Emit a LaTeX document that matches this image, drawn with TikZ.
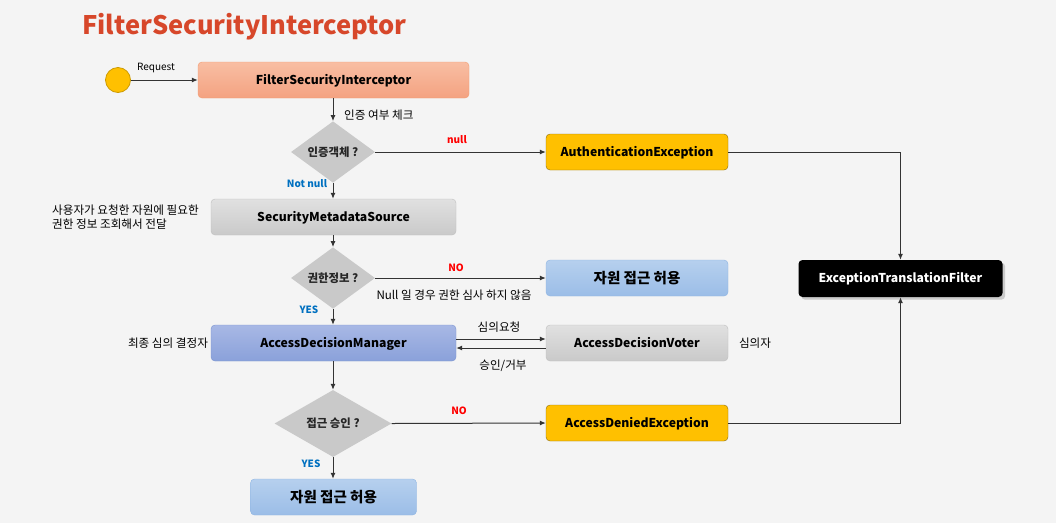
\documentclass[tikz,border=0pt]{standalone}
\usepackage{fontspec}
\setmainfont{Noto Sans CJK KR}
\usetikzlibrary{arrows.meta,shapes.geometric,shadows}
\definecolor{bgcol}{HTML}{F4F4F4}
\definecolor{titlecol}{HTML}{D7472A}
\definecolor{linecol}{HTML}{333333}
\definecolor{nored}{HTML}{FF0000}
\definecolor{yesblue}{HTML}{0070C0}
\definecolor{salmontop}{HTML}{F8BEA3}
\definecolor{salmonbot}{HTML}{F4A281}
\definecolor{salmonline}{HTML}{F29B70}
\definecolor{ambercol}{HTML}{FFC000}
\definecolor{amberline}{HTML}{8C6E10}
\definecolor{bluetop}{HTML}{B6D0EE}
\definecolor{bluebot}{HTML}{9BBDE7}
\definecolor{blueline}{HTML}{8DB4E2}
\definecolor{mgrtop}{HTML}{A8B8E5}
\definecolor{mgrbot}{HTML}{8AA1DA}
\definecolor{mgrline}{HTML}{7A93D0}
\begin{document}
\begin{tikzpicture}[x=1pt,y=-1pt,
		box/.style={rectangle,rounded corners=4pt,minimum height=36pt,inner sep=0pt,
			text height=9pt,text depth=1pt,font=\bfseries\fontsize{12.2}{14}\selectfont},
		salmon/.style={box,draw=salmonline,top color=salmontop,bottom color=salmonbot},
		amber/.style={box,draw=amberline,fill=ambercol},
		greybox/.style={box,draw=black!25,top color=black!12,bottom color=black!21},
		bluebox/.style={box,draw=blueline,top color=bluetop,bottom color=bluebot,
			text height=11.5pt,text depth=1pt,font=\bfseries\fontsize{14.5}{17}\selectfont},
		mgrbox/.style={box,draw=mgrline,top color=mgrtop,bottom color=mgrbot},
		blackbox/.style={box,fill=black,text=white,drop shadow={opacity=0.35}},
		decide/.style={diamond,fill=black!21,inner sep=0pt,text=black!85,font=\bfseries\fontsize{11.4}{13}\selectfont},
		note/.style={font=\fontsize{11.6}{14}\selectfont,inner sep=1pt},
		nolabel/.style={font=\bfseries\fontsize{10}{12}\selectfont,text=nored,inner sep=1pt},
		yeslabel/.style={font=\bfseries\fontsize{10}{12}\selectfont,text=yesblue,inner sep=1pt},
		arr/.style={draw=linecol,line width=1pt,-{Latex[length=6pt,width=5pt]}}
		]
		\fill[bgcol] (0,0) rectangle (1056,523);
		
		\node[anchor=west,font=\bfseries\fontsize{25.5}{30}\selectfont,text=titlecol,inner sep=0pt] (title) at (82,27) {FilterSecurityInterceptor};
		
		\node[circle,draw=ambercol!80!black,fill=ambercol,line width=0.8pt,minimum size=25pt,inner sep=0pt] (req) at (118,80) {};
		\node[salmon,minimum width=271pt] (fsi) at (333.5,80) {FilterSecurityInterceptor};
		\node[decide,minimum width=84pt,minimum height=43pt] (auth) at (333,152) {인증객체 ?};
		\node[amber,minimum width=182pt] (ae) at (637,152) {AuthenticationException};
		\node[greybox,minimum width=245pt] (sms) at (333.5,217) {SecurityMetadataSource};
		\node[decide,minimum width=84pt,minimum height=42pt] (info) at (333,278) {권한정보 ?};
		\node[bluebox,minimum width=182pt] (permit1) at (637,278) {자원 접근 허용};
		\node[blackbox,minimum width=204pt,minimum height=37pt] (etf) at (900.5,278.5) {ExceptionTranslationFilter};
		\node[mgrbox,minimum width=245pt] (adm) at (333.5,343) {AccessDecisionManager};
		\node[greybox,minimum width=182pt] (adv) at (637,343) {AccessDecisionVoter};
		\node[decide,minimum width=117pt,minimum height=67pt] (grant) at (333,423.5) {접근 승인 ?};
		\node[amber,minimum width=182pt] (ade) at (637,423) {AccessDeniedException};
		\node[bluebox,minimum width=166pt] (permit2) at (333.5,497) {자원 접근 허용};
		
		\draw[arr] (req) -- (fsi);
		\draw[arr] (fsi.south -| auth) -- (auth.north);
		\draw[arr] (auth.east) -- (ae.west);
		\draw[arr] (auth.south) -- (auth.south |- sms.north);
		\draw[arr] (sms.south -| info) -- (info.north);
		\draw[arr] (info.east) -- (permit1.west);
		\draw[arr] (info.south) -- (info.south |- adm.north);
		\draw[arr] ([yshift=4pt]adm.east) -- ([yshift=4pt]adv.west);
		\draw[arr] ([yshift=-5pt]adv.west) -- ([yshift=-5pt]adm.east);
		\draw[arr] (adm.south -| grant) -- (grant.north);
		\draw[arr] (grant.east) -- (ade.west);
		\draw[arr] (grant.south) -- (grant.south |- permit2.north);
		\draw[arr] (ae.east) -| (etf.north);
		\draw[arr] (ade.east) -| (etf.south);
		
		\node[note,font=\fontsize{10}{12}\selectfont] (reqtxt) at (156,68) {Request};
		\node[note,anchor=west] (checktxt) at (343,115) {인증 여부 체크};
		\node[nolabel] (nulltxt) at (457,140) {null};
		\node[yeslabel] (notnulltxt) at (307,184) {Not null};
		\node[note,anchor=west,align=left] (smstxt) at (51,217) {사용자가 요청한 자원에 필요한\\권한 정보 조회해서 전달};
		\node[nolabel] (no1) at (456,268) {NO};
		\node[note] (nulltxt2) at (454,295) {Null 일 경우 권한 심사 하지 않음};
		\node[yeslabel] (yes1) at (309,310) {YES};
		\node[note] (admtxt) at (168,343) {최종 심의 결정자};
		\node[note] (reqvote) at (499,327) {심의요청};
		\node[note] (resvote) at (503,366) {승인/거부};
		\node[note] (votertxt) at (755,343) {심의자};
		\node[nolabel] (no2) at (459,411) {NO};
		\node[yeslabel] (yes2) at (311,464) {YES};
		\end{tikzpicture}
\end{document}
